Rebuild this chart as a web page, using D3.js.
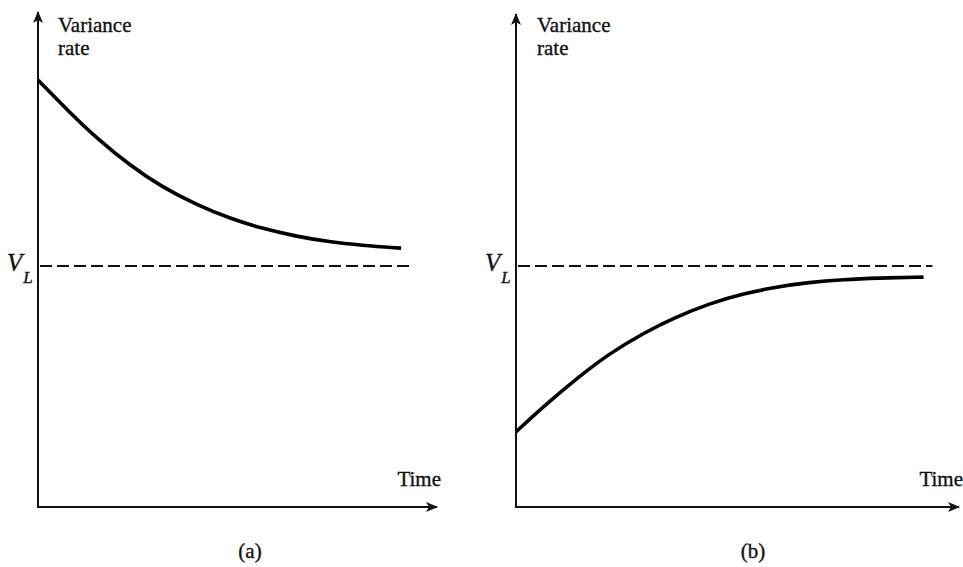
<!DOCTYPE html>
<html>
<head>
<meta charset="utf-8">
<script src="https://cdn.jsdelivr.net/npm/d3@7"></script>
<style>
  html, body { margin: 0; padding: 0; background: #fff; }
  svg { display: block; }
  text { font-family: "Liberation Serif", "DejaVu Serif", serif; fill: #111; stroke: #111; stroke-width: 0.35; }
</style>
</head>
<body>
<svg id="chart" width="963" height="567"></svg>
<script>
// ---- data (arbitrary units: time 0..100, variance 0..100, V_L = 50) ----
const VL = 50;
const timeA = [0, 8, 15, 23, 31, 40, 48, 56, 65, 73, 81, 91];
const varA  = [88.6, 81.8, 76.3, 70.9, 66.4, 62.6, 59.9, 57.8, 56.1, 55.0, 54.3, 53.7];
const timeB = [0, 6, 14, 21, 29, 36, 44, 51, 59, 66, 74, 81.5, 92];
const varB  = [15.6, 20.7, 26.9, 31.8, 36.2, 39.4, 42.3, 44.2, 45.7, 46.6, 47.2, 47.5, 47.7];
const dashEnd = [94, 94];
const yLabel = ["Variance", "rate"];
const xLabel = "Time";
const panelLabels = ["(a)", "(b)"];

const svg = d3.select("#chart");
const defs = svg.append("defs");
defs.append("marker")
  .attr("id", "arrow").attr("viewBox", "0 0 12 10")
  .attr("refX", 11).attr("refY", 5)
  .attr("markerWidth", 12).attr("markerHeight", 10)
  .attr("markerUnits", "userSpaceOnUse")
  .attr("orient", "auto")
  .append("path").attr("d", "M0,0 L12,5 L0,10 L3,5 Z").attr("fill", "#111");

const panels = [
  { x0: 38, x1: 437, yTop: 12, time: timeA, vals: varA, dash: dashEnd[0], label: panelLabels[0], labelX: 250, txtX: 58 },
  { x0: 516, x1: 959, yTop: 14, time: timeB, vals: varB, dash: dashEnd[1], label: panelLabels[1], labelX: 753, txtX: 537 }
];
const yBase = 507;

panels.forEach(p => {
  const g = svg.append("g");
  const x = d3.scaleLinear().domain([0, 100]).range([p.x0, p.x1]);
  const y = d3.scaleLinear().domain([0, 100]).range([yBase, yBase - 482]);

  // axes
  g.append("line").attr("x1", x(0)).attr("x2", x(0)).attr("y1", yBase + 1).attr("y2", p.yTop)
    .attr("stroke", "#111").attr("stroke-width", 2).attr("marker-end", "url(#arrow)");
  g.append("line").attr("x1", x(0) - 1).attr("x2", x(100)).attr("y1", yBase).attr("y2", yBase)
    .attr("stroke", "#111").attr("stroke-width", 2).attr("marker-end", "url(#arrow)");

  // V_L dashed
  g.append("line").attr("x1", x(0) + 2).attr("x2", x(p.dash)).attr("y1", y(VL)).attr("y2", y(VL))
    .attr("stroke", "#111").attr("stroke-width", 2).attr("stroke-dasharray", "12,5");

  // curve
  const data = p.time.map((t, i) => [t, p.vals[i]]);
  g.append("path").datum(data)
    .attr("d", d3.line().x(d => x(d[0])).y(d => y(d[1])).curve(d3.curveBasis))
    .attr("fill", "none").attr("stroke", "#000").attr("stroke-width", 3.6);

  // labels
  g.append("text").attr("x", p.txtX).attr("y", 32).attr("font-size", 21).text(yLabel[0]);
  g.append("text").attr("x", p.txtX).attr("y", 55).attr("font-size", 21).text(yLabel[1]);
  const vl = g.append("text").attr("x", x(0) - 31).attr("y", y(VL) + 5)
    .attr("font-size", 25).attr("font-style", "italic");
  vl.append("tspan").text("V");
  vl.append("tspan").attr("dx", 1).attr("dy", 12).attr("font-size", 17).text("L");
  g.append("text").attr("x", x(100) + 4).attr("y", 486).attr("text-anchor", "end")
    .attr("font-size", 21).text(xLabel);
  g.append("text").attr("x", p.labelX).attr("y", 558).attr("text-anchor", "middle")
    .attr("font-size", 21).text(p.label);
});
</script>
</body>
</html>
